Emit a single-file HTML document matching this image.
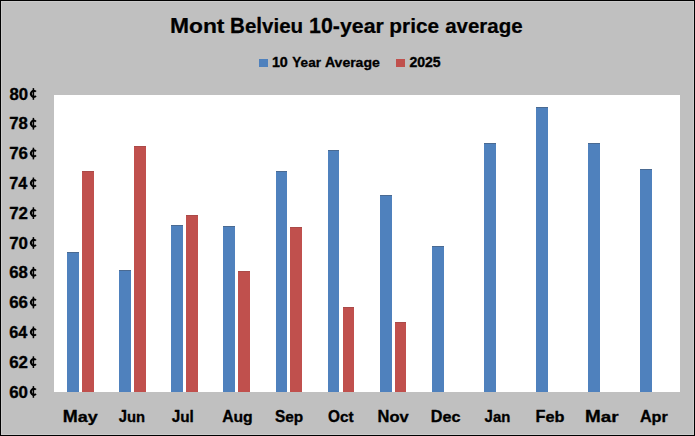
<!DOCTYPE html>
<html><head><meta charset="utf-8"><style>html,body{margin:0;padding:0;background:#c0c0c0}svg{display:block}</style></head>
<body><svg width="695" height="436" viewBox="0 0 695 436">
<rect x="0" y="0" width="695" height="436" fill="#000"/>
<rect x="1" y="1" width="693" height="434" fill="#cbcbcb"/>
<rect x="2" y="2" width="691" height="432" fill="#c0c0c0"/>
<rect x="54" y="95" width="626" height="297" fill="#fff"/>
<rect x="67" y="252" width="12" height="140" fill="#4f81bd"/>
<rect x="119" y="270" width="12" height="122" fill="#4f81bd"/>
<rect x="171" y="225" width="12" height="167" fill="#4f81bd"/>
<rect x="223" y="226" width="12" height="166" fill="#4f81bd"/>
<rect x="276" y="171" width="11" height="221" fill="#4f81bd"/>
<rect x="328" y="150" width="11" height="242" fill="#4f81bd"/>
<rect x="380" y="195" width="12" height="197" fill="#4f81bd"/>
<rect x="432" y="246" width="12" height="146" fill="#4f81bd"/>
<rect x="484" y="143" width="12" height="249" fill="#4f81bd"/>
<rect x="536" y="107" width="12" height="285" fill="#4f81bd"/>
<rect x="588" y="143" width="12" height="249" fill="#4f81bd"/>
<rect x="640" y="169" width="12" height="223" fill="#4f81bd"/>
<rect x="82" y="171" width="12" height="221" fill="#c0504d"/>
<rect x="134" y="146" width="12" height="246" fill="#c0504d"/>
<rect x="186" y="215" width="12" height="177" fill="#c0504d"/>
<rect x="238" y="271" width="12" height="121" fill="#c0504d"/>
<rect x="290" y="227" width="12" height="165" fill="#c0504d"/>
<rect x="343" y="307" width="11" height="85" fill="#c0504d"/>
<rect x="395" y="322" width="11" height="70" fill="#c0504d"/>
<rect x="67" y="252" width="12" height="1" fill="#4a6a92"/>
<rect x="119" y="270" width="12" height="1" fill="#4a6a92"/>
<rect x="171" y="225" width="12" height="1" fill="#4a6a92"/>
<rect x="223" y="226" width="12" height="1" fill="#4a6a92"/>
<rect x="276" y="171" width="11" height="1" fill="#4a6a92"/>
<rect x="328" y="150" width="11" height="1" fill="#4a6a92"/>
<rect x="380" y="195" width="12" height="1" fill="#4a6a92"/>
<rect x="432" y="246" width="12" height="1" fill="#4a6a92"/>
<rect x="484" y="143" width="12" height="1" fill="#4a6a92"/>
<rect x="536" y="107" width="12" height="1" fill="#4a6a92"/>
<rect x="588" y="143" width="12" height="1" fill="#4a6a92"/>
<rect x="640" y="169" width="12" height="1" fill="#4a6a92"/>
<rect x="82" y="171" width="12" height="1" fill="#aa4a48"/>
<rect x="134" y="146" width="12" height="1" fill="#aa4a48"/>
<rect x="186" y="215" width="12" height="1" fill="#aa4a48"/>
<rect x="238" y="271" width="12" height="1" fill="#aa4a48"/>
<rect x="290" y="227" width="12" height="1" fill="#aa4a48"/>
<rect x="343" y="307" width="11" height="1" fill="#aa4a48"/>
<rect x="395" y="322" width="11" height="1" fill="#aa4a48"/>
<rect x="259" y="59" width="9" height="8" fill="#4f81bd"/>
<rect x="396" y="59" width="9" height="8" fill="#c0504d"/>
<path d="M35.88,91.73 A2.8,3.1 0 1 0 35.88,95.87" fill="none" stroke="#000" stroke-width="2.0"/>
<rect x="32.65" y="88.10" width="1.5" height="11.7" fill="#000"/>
<path d="M35.88,121.53 A2.8,3.1 0 1 0 35.88,125.67" fill="none" stroke="#000" stroke-width="2.0"/>
<rect x="32.65" y="117.90" width="1.5" height="11.7" fill="#000"/>
<path d="M35.88,151.33 A2.8,3.1 0 1 0 35.88,155.47" fill="none" stroke="#000" stroke-width="2.0"/>
<rect x="32.65" y="147.70" width="1.5" height="11.7" fill="#000"/>
<path d="M35.88,181.13 A2.8,3.1 0 1 0 35.88,185.27" fill="none" stroke="#000" stroke-width="2.0"/>
<rect x="32.65" y="177.50" width="1.5" height="11.7" fill="#000"/>
<path d="M35.88,210.93 A2.8,3.1 0 1 0 35.88,215.07" fill="none" stroke="#000" stroke-width="2.0"/>
<rect x="32.65" y="207.30" width="1.5" height="11.7" fill="#000"/>
<path d="M35.88,240.73 A2.8,3.1 0 1 0 35.88,244.87" fill="none" stroke="#000" stroke-width="2.0"/>
<rect x="32.65" y="237.10" width="1.5" height="11.7" fill="#000"/>
<path d="M35.88,270.53 A2.8,3.1 0 1 0 35.88,274.67" fill="none" stroke="#000" stroke-width="2.0"/>
<rect x="32.65" y="266.90" width="1.5" height="11.7" fill="#000"/>
<path d="M35.88,300.33 A2.8,3.1 0 1 0 35.88,304.47" fill="none" stroke="#000" stroke-width="2.0"/>
<rect x="32.65" y="296.70" width="1.5" height="11.7" fill="#000"/>
<path d="M35.88,330.13 A2.8,3.1 0 1 0 35.88,334.27" fill="none" stroke="#000" stroke-width="2.0"/>
<rect x="32.65" y="326.50" width="1.5" height="11.7" fill="#000"/>
<path d="M35.88,359.93 A2.8,3.1 0 1 0 35.88,364.07" fill="none" stroke="#000" stroke-width="2.0"/>
<rect x="32.65" y="356.30" width="1.5" height="11.7" fill="#000"/>
<path d="M35.88,389.73 A2.8,3.1 0 1 0 35.88,393.87" fill="none" stroke="#000" stroke-width="2.0"/>
<rect x="32.65" y="386.10" width="1.5" height="11.7" fill="#000"/>
<g font-family="Liberation Sans, sans-serif" font-weight="bold" fill="#000" stroke="#000" stroke-width="0.35" stroke-linejoin="round">
<text x="0.00" transform="translate(271.89,66.75) scale(1.0230,1.0)" font-size="13.99">10</text>
<text x="0.00" transform="translate(292.33,66.75) scale(0.9694,1.0)" font-size="13.99">Y</text><text x="8.56" transform="translate(292.33,66.75) scale(0.9694,0.915)" font-size="13.99">ear</text>
<text x="0.00" transform="translate(325.03,66.75) scale(1.0009,1.0)" font-size="13.99">A</text><text x="9.58" transform="translate(325.03,66.75) scale(1.0009,0.915)" font-size="13.99">verage</text>
<text x="0.00" transform="translate(409.38,66.75) scale(1.0050,1.0)" font-size="13.99">2025</text>
<text transform="translate(9.40,99.55) scale(1.0038,1)" font-size="16.67">80</text>
<text transform="translate(9.23,129.35) scale(1.0038,1)" font-size="16.67">78</text>
<text transform="translate(9.22,159.15) scale(1.0136,1)" font-size="16.67">76</text>
<text transform="translate(9.25,188.95) scale(0.9757,1)" font-size="16.67">74</text>
<text transform="translate(9.22,218.75) scale(1.0136,1)" font-size="16.67">72</text>
<text transform="translate(9.22,248.55) scale(1.0136,1)" font-size="16.67">70</text>
<text transform="translate(9.23,278.35) scale(1.0038,1)" font-size="16.67">68</text>
<text transform="translate(9.22,308.15) scale(1.0136,1)" font-size="16.67">66</text>
<text transform="translate(9.25,337.95) scale(0.9757,1)" font-size="16.67">64</text>
<text transform="translate(9.22,367.75) scale(1.0136,1)" font-size="16.67">62</text>
<text transform="translate(9.22,397.55) scale(1.0136,1)" font-size="16.67">60</text>
<text x="0.00" transform="translate(62.84,421.90) scale(1.0596,1.0)" font-size="16.96">M</text><text x="14.12" transform="translate(62.84,421.90) scale(1.0596,0.915)" font-size="16.96">ay</text>
<text x="0.00" transform="translate(118.70,421.90) scale(0.8742,1.0)" font-size="16.96">J</text><text x="9.43" transform="translate(118.70,421.90) scale(0.8742,0.915)" font-size="16.96">un</text>
<text x="0.00" transform="translate(171.69,421.90) scale(0.9043,1.0)" font-size="16.96">J</text><text x="9.43" transform="translate(171.69,421.90) scale(0.9043,0.915)" font-size="16.96">u</text><text x="19.79" transform="translate(171.69,421.90) scale(0.9043,1.0)" font-size="16.96">l</text>
<text x="0.00" transform="translate(222.13,421.90) scale(0.9277,1.0)" font-size="16.96">A</text><text x="12.24" transform="translate(222.13,421.90) scale(0.9277,0.915)" font-size="16.96">ug</text>
<text x="0.00" transform="translate(274.94,421.90) scale(0.9081,1.0)" font-size="16.96">S</text><text x="11.31" transform="translate(274.94,421.90) scale(0.9081,0.915)" font-size="16.96">ep</text>
<text x="0.00" transform="translate(328.09,421.90) scale(0.9065,1.0)" font-size="16.96">O</text><text x="13.19" transform="translate(328.09,421.90) scale(0.9065,0.915)" font-size="16.96">ct</text>
<text x="0.00" transform="translate(377.55,421.90) scale(0.9710,1.0)" font-size="16.96">N</text><text x="12.24" transform="translate(377.55,421.90) scale(0.9710,0.915)" font-size="16.96">ov</text>
<text x="0.00" transform="translate(430.87,421.90) scale(0.9545,1.0)" font-size="16.96">D</text><text x="12.24" transform="translate(430.87,421.90) scale(0.9545,0.915)" font-size="16.96">ec</text>
<text x="0.00" transform="translate(484.60,421.90) scale(0.8810,1.0)" font-size="16.96">J</text><text x="9.43" transform="translate(484.60,421.90) scale(0.8810,0.915)" font-size="16.96">an</text>
<text x="0.00" transform="translate(535.56,421.90) scale(0.9605,1.0)" font-size="16.96">F</text><text x="10.36" transform="translate(535.56,421.90) scale(0.9605,0.915)" font-size="16.96">eb</text>
<text x="0.00" transform="translate(585.08,421.90) scale(1.1132,1.0)" font-size="16.96">M</text><text x="14.12" transform="translate(585.08,421.90) scale(1.1132,0.915)" font-size="16.96">ar</text>
<text x="0.00" transform="translate(639.91,421.90) scale(0.9548,1.0)" font-size="16.96">A</text><text x="12.24" transform="translate(639.91,421.90) scale(0.9548,0.915)" font-size="16.96">pr</text>
<g stroke-width="0.25"><text x="0.00" transform="translate(169.90,32.90) scale(1.0445,1.0)" font-size="21.88">M</text><text x="18.23" transform="translate(169.90,32.90) scale(1.0445,0.915)" font-size="21.88">ont</text><text x="0.00" transform="translate(230.06,32.90) scale(0.9393,1.0)" font-size="21.88">B</text><text x="15.80" transform="translate(230.06,32.90) scale(0.9393,0.915)" font-size="21.88">e</text><text x="27.97" transform="translate(230.06,32.90) scale(0.9393,1.0)" font-size="21.88">l</text><text x="34.05" transform="translate(230.06,32.90) scale(0.9393,0.915)" font-size="21.88">vieu</text><text x="0.00" transform="translate(309.12,32.90) scale(0.9752,1.0)" font-size="21.88">10-</text><text x="31.63" transform="translate(309.12,32.90) scale(0.9752,0.915)" font-size="21.88">year</text><text x="0.00" transform="translate(389.34,32.90) scale(0.9518,0.915)" font-size="21.88">price</text><text x="0.00" transform="translate(445.18,32.90) scale(0.9372,0.915)" font-size="21.88">average</text></g>
</g>
</svg></body></html>
